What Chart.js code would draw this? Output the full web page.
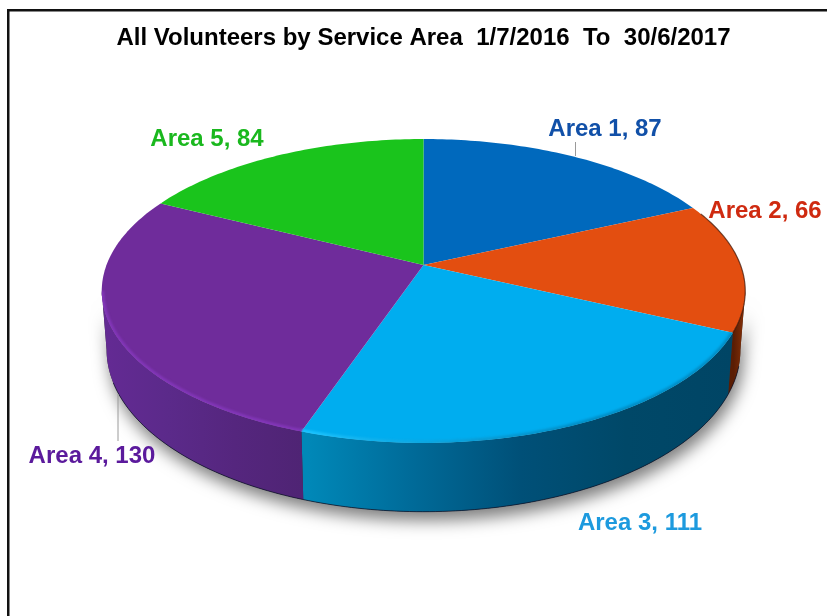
<!DOCTYPE html>
<html>
<head>
<meta charset="utf-8">
<style>
  html, body { margin: 0; padding: 0; background: #fff; }
  canvas { display: block; }
</style>
</head>
<body>
<canvas id="myChart" width="827" height="616"></canvas>
<script src="https://cdn.jsdelivr.net/npm/chart.js@4"></script>
<script>
const categories = ["Area 1", "Area 2", "Area 3", "Area 4", "Area 5"];
const volunteers = [87, 66, 111, 130, 84];
const titleText = "All Volunteers by Service Area  1/7/2016  To  30/6/2017";

const sliceColors = ["#0069bd", "#e34e10", "#00adef", "#6f2c9b", "#1ac41c"];
const labelColors = ["#1150a8", "#cf2a10", "#1d9ade", "#5b1a9c", "#1ab81e"];

// wall shading, left to right across the wall of each slice
const wallStops = [
  ["#003a66", "#003a66"],
  ["#5a1d04", "#8a3208"],
  ["#0088b8", "#006a98", "#005078", "#004868", "#004565"],
  ["#642a94", "#5b2a8a", "#55267e", "#4f2474"],
  ["#0e7a10", "#0e7a10"],
];
const rimLight = [null, null, "#1cc4ff", "#8236b8", null];

// label centres and leader lines, in page pixels
const labelSpots = [[605, 129], [765, 211], [640, 523], [92, 456], [207, 139]];
const leaders = [[575.5, 142, 575.5, 156], null, null, [118, 394, 118, 441], null];

// perspective of the tilted disc
const apexX = 423.5;
const apexY = 265;
const spreadX = 317;
const spreadY = 147.5;
const tilt = 0.171;
const depth = 57;
const bottomShrink = 0.985;

// the wall only shows between the two side extremes of the rim
const sideTheta = Math.acos(-tilt);
const wallFrom = sideTheta - Math.PI / 2;
const wallTo = Math.PI * 1.5 - sideTheta;

function rimPoint(angle, isBottom) {
  const theta = angle + Math.PI / 2;
  const den = 1 + tilt * Math.cos(theta);
  const k = isBottom ? bottomShrink : 1;
  return [
    apexX + (k * spreadX * Math.sin(theta)) / den,
    apexY + ((isBottom ? depth : 0) - spreadY * Math.cos(theta)) / den,
  ];
}

function rimPath(ctx, from, to, isBottom, join) {
  const steps = Math.max(2, Math.ceil((Math.abs(to - from) * 180) / Math.PI));
  for (let i = 0; i <= steps; i++) {
    const p = rimPoint(from + ((to - from) * i) / steps, isBottom);
    if (i === 0 && !join) ctx.moveTo(p[0], p[1]);
    else ctx.lineTo(p[0], p[1]);
  }
}

const tiltedPie = {
  id: "tiltedPie",
  beforeDatasetDraw(chart, args) {
    const ctx = chart.ctx;
    const arcs = args.meta.data;

    // soft shadow under the disc
    ctx.save();
    ctx.shadowColor = "rgba(0,0,0,0.5)";
    ctx.shadowBlur = 16;
    ctx.shadowOffsetY = 9;
    ctx.shadowOffsetX = 3;
    ctx.fillStyle = "#333";
    ctx.beginPath();
    rimPath(ctx, wallFrom, wallTo, false, false);
    rimPath(ctx, wallTo, wallFrom, true, true);
    ctx.closePath();
    ctx.fill();
    ctx.restore();

    // walls
    arcs.forEach((arc, i) => {
      const from = Math.max(arc.startAngle, wallFrom);
      const to = Math.min(arc.endAngle, wallTo);
      if (to <= from) return;
      let minX = Infinity;
      let maxX = -Infinity;
      for (let a = from; a <= to; a += 0.02) {
        const x = rimPoint(a, false)[0];
        if (x < minX) minX = x;
        if (x > maxX) maxX = x;
      }
      const grad = ctx.createLinearGradient(minX, 0, maxX, 0);
      wallStops[i].forEach((c, j) => grad.addColorStop(j / (wallStops[i].length - 1), c));
      ctx.fillStyle = grad;
      ctx.beginPath();
      rimPath(ctx, from, to, false, false);
      rimPath(ctx, to, from, true, true);
      ctx.closePath();
      ctx.fill();
    });

    // dark line along the bottom edge of the wall
    ctx.save();
    ctx.strokeStyle = "rgba(10,15,40,0.7)";
    ctx.lineWidth = 1;
    ctx.beginPath();
    rimPath(ctx, wallFrom + 0.1, wallTo - 0.2, true, false);
    ctx.stroke();
    ctx.restore();

    // top faces
    arcs.forEach((arc, i) => {
      ctx.fillStyle = sliceColors[i];
      ctx.beginPath();
      ctx.moveTo(apexX, apexY);
      rimPath(ctx, arc.startAngle, arc.endAngle, false, true);
      ctx.closePath();
      ctx.fill();
    });

    // bevel highlight on the front rim, kept inside the top face
    arcs.forEach((arc, i) => {
      if (!rimLight[i]) return;
      ctx.save();
      ctx.beginPath();
      rimPath(ctx, -Math.PI / 2, Math.PI * 1.5, false, false);
      ctx.closePath();
      ctx.clip();
      ctx.filter = "blur(1px)";
      ctx.lineWidth = 5;
      const grad = ctx.createLinearGradient(i === 2 ? 304 : 102, 0, i === 2 ? 600 : 304, 0);
      grad.addColorStop(0, rimLight[i]);
      grad.addColorStop(1, i === 2 ? "rgba(0,120,170,0.6)" : rimLight[i]);
      ctx.strokeStyle = grad;
      ctx.beginPath();
      const end = i === 3 ? wallTo : arc.endAngle;
      rimPath(ctx, arc.startAngle, end, false, false);
      ctx.stroke();
      ctx.restore();
    });

    // dark edge on the right hand rim
    ctx.save();
    ctx.strokeStyle = "rgba(60,20,5,0.7)";
    ctx.lineWidth = 1.2;
    ctx.beginPath();
    rimPath(ctx, arcs[1].startAngle + 0.05, arcs[1].endAngle, false, false);
    ctx.stroke();
    ctx.restore();

    // leader lines and labels
    ctx.save();
    ctx.strokeStyle = "#9a9a9a";
    ctx.lineWidth = 1;
    leaders.forEach((l) => {
      if (!l) return;
      ctx.beginPath();
      ctx.moveTo(l[0], l[1]);
      ctx.lineTo(l[2], l[3]);
      ctx.stroke();
    });
    ctx.font = "bold 24px 'Liberation Sans'";
    ctx.textAlign = "center";
    ctx.textBaseline = "middle";
    categories.forEach((cat, i) => {
      ctx.fillStyle = labelColors[i];
      ctx.fillText(cat + ", " + volunteers[i], labelSpots[i][0], labelSpots[i][1]);
    });
    ctx.restore();

    // frame: top and left edges only
    ctx.fillStyle = "#111";
    ctx.fillRect(7, 9, 820, 2.5);
    ctx.fillRect(7, 9, 2.5, 607);

    return false;
  },
};

new Chart(document.getElementById("myChart"), {
  type: "pie",
  data: {
    labels: categories,
    datasets: [{ data: volunteers, backgroundColor: sliceColors, borderWidth: 0 }],
  },
  options: {
    responsive: false,
    animation: false,
    layout: { padding: { left: 20 } },
    plugins: {
      legend: { display: false },
      tooltip: { enabled: false },
      title: {
        display: true,
        text: titleText,
        color: "#000",
        font: { family: "'Liberation Sans'", size: 24, weight: "bold" },
        padding: { top: 24, bottom: 10 },
      },
    },
  },
  plugins: [tiltedPie],
});
</script>
</body>
</html>
